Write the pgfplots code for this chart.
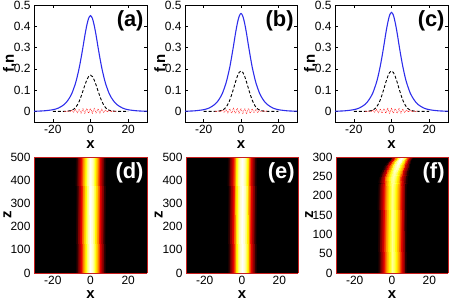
\documentclass[border=0pt]{standalone}
\usepackage{pgfplots}
\pgfplotsset{compat=1.18}
\usepackage{fontspec}
\setmainfont{Liberation Sans}
\definecolor{lblue}{RGB}{45,45,235}
\definecolor{bred}{RGB}{200,30,30}
\tikzset{pl/.style={font=\fontsize{22}{24}\selectfont\bfseries, anchor=north east, inner sep=1pt}}
\pgfplotsset{
  colormap={hotx}{rgb255(0pt)=(0,0,0) rgb255(10pt)=(120,0,0) rgb255(30pt)=(230,0,0) rgb255(50pt)=(255,140,0) rgb255(72pt)=(255,255,0) rgb255(86pt)=(255,255,150) rgb255(100pt)=(255,255,255)},
  base/.style={scale only axis, xmin=-30, xmax=30, xtick={-20,0,20}, xticklabels={-20,0,20},
    tick label style={font=\fontsize{12}{13}\selectfont},
    label style={font=\fontsize{15}{16}\selectfont\bfseries},
    xlabel={x}},
  top/.style={base, height=117bp, ymin=-0.05, ymax=0.5, ytick={0,0.1,0.2,0.3,0.4,0.5},
    yticklabels={0,0.1,0.2,0.3,0.4,0.5}, ylabel={f,n},
    ylabel style={at={(rel axis cs:-0.215,0.5)}, anchor=center},
    axis line style={line width=0.9pt}, tick align=inside, major tick length=3bp,
    tick style={black, line width=0.6pt}, clip=true},
  bot/.style={base, height=116bp, view={0}{90}, colormap name=hotx,
    point meta min=0, point meta max=1, ztick=\empty, ylabel={z}, ymin=0,
    xlabel style={yshift=1.5bp},
    axis line style={bred, line width=0.6pt}, major tick length=0pt},
}
\begin{document}
\begin{tikzpicture}
\path[use as bounding box] (0,0) rectangle (452bp,302bp);
% ---------------- (a)
\begin{axis}[top, at={(34bp,180bp)}, width=113bp]
\addplot[lblue, line width=1.1pt, smooth] coordinates {(-30,0.0007) (-25,0.0023) (-20,0.0077) (-17,0.0157) (-14,0.032) (-12,0.052) (-10,0.082) (-8,0.131) (-7,0.165) (-6,0.204) (-5,0.251) (-4,0.302) (-3,0.356) (-2,0.403) (-1,0.4376) (0,0.45) (1,0.4376) (2,0.403) (3,0.356) (4,0.302) (5,0.251) (6,0.204) (7,0.165) (8,0.131) (10,0.082) (12,0.052) (14,0.032) (17,0.0157) (20,0.0077) (25,0.0023) (30,0.0007)};
\addplot[black, line width=0.9pt, dash pattern=on 3pt off 2pt] coordinates {(-20,0) (-15,0) (-12,0.001) (-10,0.005) (-9,0.0095) (-8,0.017) (-7,0.030) (-6,0.047) (-5,0.070) (-4,0.096) (-3,0.123) (-2,0.147) (-1,0.164) (0,0.17) (1,0.164) (2,0.147) (3,0.123) (4,0.096) (5,0.070) (6,0.047) (7,0.030) (8,0.017) (9,0.0095) (10,0.005) (12,0.001) (15,0) (20,0)};
\addplot[red, line width=0.6pt, densely dotted, smooth] coordinates {(-14,0) (-13.5,0.001) (-13,-0.001) (-12.5,0.001) (-12,0.002) (-11.5,0.001) (-11,-0.002) (-10.5,0.001) (-10,0.005) (-9.5,0.002) (-9,-0.004) (-8.5,0.002) (-8,0.008) (-7.5,0.002) (-7,-0.006) (-6.5,0.002) (-6,0.010) (-5.5,0.002) (-5,-0.008) (-4.5,0.002) (-4,0.012) (-3.5,0.002) (-3,-0.009) (-2.5,0.002) (-2,0.013) (-1.5,0.002) (-1,-0.009) (-0.5,0.002) (0,0.013) (0.5,0.002) (1,-0.009) (1.5,0.002) (2,0.013) (2.5,0.002) (3,-0.009) (3.5,0.002) (4,0.012) (4.5,0.002) (5,-0.008) (5.5,0.002) (6,0.010) (6.5,0.002) (7,-0.006) (7.5,0.002) (8,0.008) (8.5,0.002) (9,-0.004) (9.5,0.002) (10,0.005) (10.5,0.001) (11,-0.002) (11.5,0.001) (12,0.002) (12.5,0.001) (13,-0.001) (13.5,0.001) (14,0)};
\node[pl] at (rel axis cs:0.98,0.96) {(a)};
\end{axis}
% ---------------- (b)
\begin{axis}[top, at={(185bp,180bp)}, width=112bp]
\addplot[lblue, line width=1.1pt, smooth] coordinates {(-30,0.0007) (-25,0.0024) (-20,0.0079) (-17,0.016) (-14,0.033) (-12,0.053) (-10,0.084) (-8,0.134) (-7,0.169) (-6,0.208) (-5,0.257) (-4,0.309) (-3,0.364) (-2,0.412) (-1,0.447) (0,0.46) (1,0.447) (2,0.412) (3,0.364) (4,0.309) (5,0.257) (6,0.208) (7,0.169) (8,0.134) (10,0.084) (12,0.053) (14,0.033) (17,0.016) (20,0.0079) (25,0.0024) (30,0.0007)};
\addplot[black, line width=0.9pt, dash pattern=on 3pt off 2pt] coordinates {(-20,0) (-15,0) (-12,0.001) (-10,0.0056) (-9,0.011) (-8,0.019) (-7,0.034) (-6,0.053) (-5,0.078) (-4,0.107) (-3,0.137) (-2,0.164) (-1,0.183) (0,0.19) (1,0.183) (2,0.164) (3,0.137) (4,0.107) (5,0.078) (6,0.053) (7,0.034) (8,0.019) (9,0.011) (10,0.0056) (12,0.001) (15,0) (20,0)};
\addplot[red, line width=0.6pt, densely dotted, smooth] coordinates {(-14,0) (-13.5,0.001) (-13,-0.001) (-12.5,0.001) (-12,0.003) (-11.5,0.001) (-11,-0.002) (-10.5,0.001) (-10,0.006) (-9.5,0.002) (-9,-0.005) (-8.5,0.002) (-8,0.009) (-7.5,0.002) (-7,-0.007) (-6.5,0.002) (-6,0.012) (-5.5,0.002) (-5,-0.009) (-4.5,0.002) (-4,0.014) (-3.5,0.002) (-3,-0.010) (-2.5,0.002) (-2,0.014) (-1.5,0.002) (-1,-0.010) (-0.5,0.002) (0,0.014) (0.5,0.002) (1,-0.010) (1.5,0.002) (2,0.014) (2.5,0.002) (3,-0.010) (3.5,0.002) (4,0.014) (4.5,0.002) (5,-0.009) (5.5,0.002) (6,0.012) (6.5,0.002) (7,-0.007) (7.5,0.002) (8,0.009) (8.5,0.002) (9,-0.005) (9.5,0.002) (10,0.006) (10.5,0.001) (11,-0.002) (11.5,0.001) (12,0.003) (12.5,0.001) (13,-0.001) (13.5,0.001) (14,0)};
\node[pl] at (rel axis cs:0.98,0.96) {(b)};
\end{axis}
% ---------------- (c)
\begin{axis}[top, at={(335bp,180bp)}, width=113bp]
\addplot[lblue, line width=1.1pt, smooth] coordinates {(-30,0.0007) (-25,0.0024) (-20,0.008) (-17,0.0162) (-14,0.033) (-12,0.054) (-10,0.085) (-8,0.135) (-7,0.170) (-6,0.211) (-5,0.259) (-4,0.312) (-3,0.368) (-2,0.416) (-1,0.452) (0,0.465) (1,0.452) (2,0.416) (3,0.368) (4,0.312) (5,0.259) (6,0.211) (7,0.170) (8,0.135) (10,0.085) (12,0.054) (14,0.033) (17,0.0162) (20,0.008) (25,0.0024) (30,0.0007)};
\addplot[black, line width=0.9pt, dash pattern=on 3pt off 2pt] coordinates {(-20,0) (-15,0) (-12,0.001) (-10,0.0056) (-9,0.011) (-8,0.019) (-7,0.034) (-6,0.053) (-5,0.078) (-4,0.107) (-3,0.137) (-2,0.164) (-1,0.183) (0,0.19) (1,0.183) (2,0.164) (3,0.137) (4,0.107) (5,0.078) (6,0.053) (7,0.034) (8,0.019) (9,0.011) (10,0.0056) (12,0.001) (15,0) (20,0)};
\addplot[red, line width=0.6pt, densely dotted, smooth] coordinates {(-14,0) (-13.5,0.001) (-13,-0.001) (-12.5,0.001) (-12,0.002) (-11.5,0.001) (-11,-0.002) (-10.5,0.001) (-10,0.005) (-9.5,0.002) (-9,-0.004) (-8.5,0.002) (-8,0.008) (-7.5,0.002) (-7,-0.006) (-6.5,0.002) (-6,0.011) (-5.5,0.002) (-5,-0.008) (-4.5,0.002) (-4,0.013) (-3.5,0.002) (-3,-0.009) (-2.5,0.002) (-2,0.013) (-1.5,0.002) (-1,-0.009) (-0.5,0.002) (0,0.013) (0.5,0.002) (1,-0.009) (1.5,0.002) (2,0.013) (2.5,0.002) (3,-0.009) (3.5,0.002) (4,0.013) (4.5,0.002) (5,-0.008) (5.5,0.002) (6,0.011) (6.5,0.002) (7,-0.006) (7.5,0.002) (8,0.008) (8.5,0.002) (9,-0.004) (9.5,0.002) (10,0.005) (10.5,0.001) (11,-0.002) (11.5,0.001) (12,0.002) (12.5,0.001) (13,-0.001) (13.5,0.001) (14,0)};
\node[pl] at (rel axis cs:0.98,0.96) {(c)};
\end{axis}
% ---------------- (d)
\begin{axis}[bot, at={(34bp,29bp)}, width=113bp, ymax=500, ytick={0,100,200,300,400,500}, yticklabels={0,100,200,300,400,500},
  ylabel style={at={(rel axis cs:-0.235,0.5)}, anchor=center}]
\addplot3[surf, shader=interp, mesh/rows=2, mesh/cols=19] table {
x y c
-30 0 0
-8 0 0
-7 0 0.04
-6 0 0.15
-5 0 0.3
-4 0 0.48
-3 0 0.66
-2 0 0.82
-1 0 0.94
0 0 1
1 0 0.94
2 0 0.82
3 0 0.66
4 0 0.48
5 0 0.3
6 0 0.15
7 0 0.04
8 0 0
30 0 0
-30 500 0
-8 500 0
-7 500 0.04
-6 500 0.15
-5 500 0.3
-4 500 0.48
-3 500 0.66
-2 500 0.82
-1 500 0.94
0 500 1
1 500 0.94
2 500 0.82
3 500 0.66
4 500 0.48
5 500 0.3
6 500 0.15
7 500 0.04
8 500 0
30 500 0
};
\node[pl, white] at (rel axis cs:0.98,0.96) {(d)};
\end{axis}
% ---------------- (e)
\begin{axis}[bot, at={(186bp,29bp)}, width=112bp, ymax=500, ytick={0,100,200,300,400,500}, yticklabels={0,100,200,300,400,500},
  ylabel style={at={(rel axis cs:-0.245,0.5)}, anchor=center}]
\addplot3[surf, shader=interp, mesh/rows=2, mesh/cols=19] table {
x y c
-30 0 0
-8 0 0
-7 0 0.04
-6 0 0.15
-5 0 0.3
-4 0 0.48
-3 0 0.66
-2 0 0.82
-1 0 0.94
0 0 1
1 0 0.94
2 0 0.82
3 0 0.66
4 0 0.48
5 0 0.3
6 0 0.15
7 0 0.04
8 0 0
30 0 0
-30 500 0
-8 500 0
-7 500 0.04
-6 500 0.15
-5 500 0.3
-4 500 0.48
-3 500 0.66
-2 500 0.82
-1 500 0.94
0 500 1
1 500 0.94
2 500 0.82
3 500 0.66
4 500 0.48
5 500 0.3
6 500 0.15
7 500 0.04
8 500 0
30 500 0
};
\node[pl, white] at (rel axis cs:0.98,0.96) {(e)};
\end{axis}
% ---------------- (f)
\begin{axis}[bot, at={(336bp,29bp)}, width=112bp, ymax=300, ytick={0,50,100,150,200,250,300}, yticklabels={0,50,100,150,200,250,300},
  ylabel style={at={(rel axis cs:-0.24,0.5)}, anchor=center}]
\addplot3[surf, shader=interp, mesh/rows=7, mesh/cols=19] table {
x y c
-30 0 0
-7.8 0 0
-6.8 0 0.034
-5.8 0 0.129
-4.8 0 0.258
-3.8 0 0.413
-2.8 0 0.568
-1.8 0 0.705
-0.8 0 0.808
0.2 0 0.86
1.2 0 0.808
2.2 0 0.705
3.2 0 0.568
4.2 0 0.413
5.2 0 0.258
6.2 0 0.129
7.2 0 0.034
8.2 0 0
30 0 0
-30 220 0
-7.8 220 0
-6.8 220 0.034
-5.8 220 0.129
-4.8 220 0.258
-3.8 220 0.413
-2.8 220 0.568
-1.8 220 0.705
-0.8 220 0.808
0.2 220 0.86
1.2 220 0.808
2.2 220 0.705
3.2 220 0.568
4.2 220 0.413
5.2 220 0.258
6.2 220 0.129
7.2 220 0.034
8.2 220 0
30 220 0
-30 245 0
-7.5 245 0
-6.5 245 0.035
-5.5 245 0.132
-4.5 245 0.264
-3.5 245 0.422
-2.5 245 0.581
-1.5 245 0.722
-0.5 245 0.827
0.5 245 0.88
1.5 245 0.827
2.5 245 0.722
3.5 245 0.581
4.5 245 0.422
5.5 245 0.264
6.5 245 0.132
7.5 245 0.035
8.5 245 0
30 245 0
-30 262 0
-6.3 262 0
-5.35 262 0.036
-4.4 262 0.137
-3.45 262 0.273
-2.5 262 0.437
-1.55 262 0.601
-0.6 262 0.746
0.35 262 0.855
1.3 262 0.91
2.25 262 0.855
3.2 262 0.746
4.15 262 0.601
5.1 262 0.437
6.05 262 0.273
7.0 262 0.137
7.95 262 0.036
8.9 262 0
30 262 0
-30 278 0
-4.6 278 0
-3.7 278 0.038
-2.8 278 0.143
-1.9 278 0.285
-1.0 278 0.456
-0.1 278 0.627
0.8 278 0.779
1.7 278 0.893
2.6 278 0.95
3.5 278 0.893
4.4 278 0.779
5.3 278 0.627
6.2 278 0.456
7.1 278 0.285
8.0 278 0.143
8.9 278 0.038
9.8 278 0
30 278 0
-30 290 0
-2.6 290 0
-1.8 290 0.04
-1.0 290 0.15
-0.2 290 0.3
0.6 290 0.48
1.4 290 0.66
2.2 290 0.82
3.0 290 0.94
3.8 290 1
4.6 290 0.94
5.4 290 0.82
6.2 290 0.66
7.0 290 0.48
7.8 290 0.3
8.6 290 0.15
9.4 290 0.04
10.2 290 0
30 290 0
-30 300 0
-0.8 300 0
-0.05 300 0.04
0.7 300 0.15
1.45 300 0.3
2.2 300 0.48
2.95 300 0.66
3.7 300 0.82
4.45 300 0.94
5.2 300 1
5.95 300 0.94
6.7 300 0.82
7.45 300 0.66
8.2 300 0.48
8.95 300 0.3
9.7 300 0.15
10.45 300 0.04
11.2 300 0
30 300 0
};
\node[pl, white] at (rel axis cs:0.98,0.96) {(f)};
\end{axis}
\end{tikzpicture}
\end{document}
